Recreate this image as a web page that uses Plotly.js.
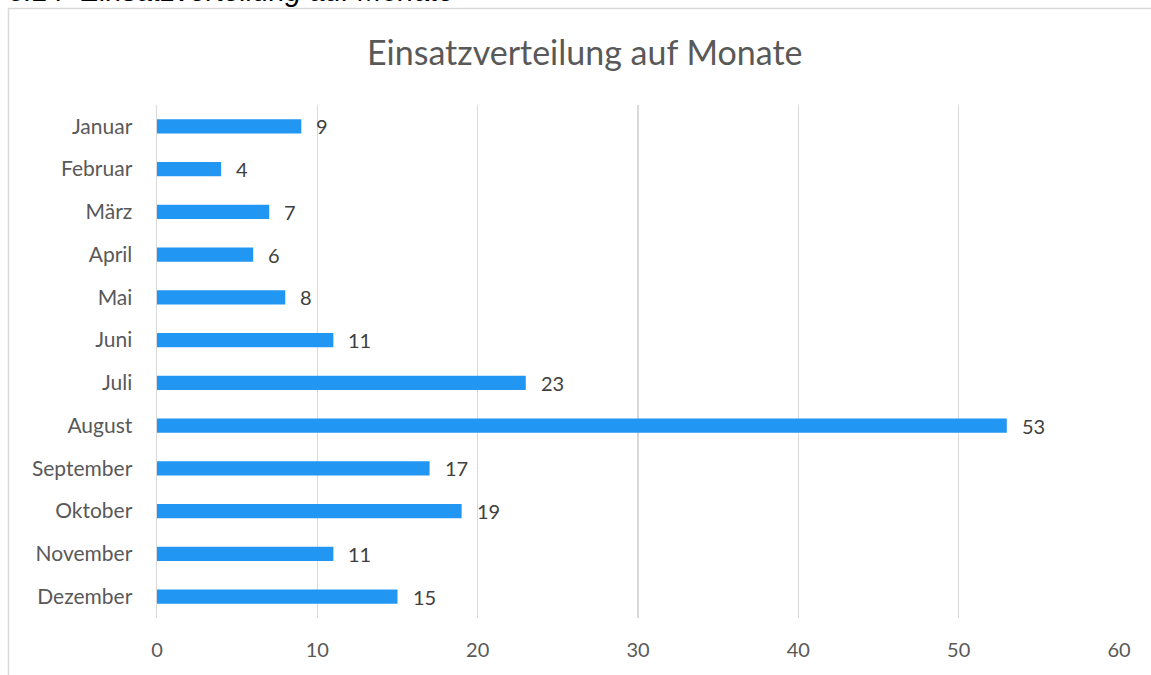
<!DOCTYPE html>
<html>
<head>
<meta charset="utf-8">
<script src="https://cdn.plot.ly/plotly-3.0.1.min.js"></script>
<style>
html,body{margin:0;padding:0;background:#fff;overflow:hidden;}
#chart{width:1151px;height:675px;}
</style>
</head>
<body>
<div id="chart"></div>
<script>
const months = ["Januar","Februar","März","April","Mai","Juni","Juli","August","September","Oktober","November","Dezember"];
const counts = [9,4,7,6,8,11,23,53,17,19,11,15];
const xTicks = [0,10,20,30,40,50,60];
const chartTitle = "Einsatzverteilung auf Monate";
const caption = "3.14  Einsatzverteilung auf Monate";

const W = 1151, H = 675;
const mL = 157, mR = 32, mT = 105, mB = 57;
const pw = W - mL - mR, ph = H - mT - mB;
const px = x => (x - mL) / pw;
const py = y => (H - mB - y) / ph;

const font = "Lato, 'Open Sans', sans-serif";

const annotations = months.map((m, i) => ({
  x: counts[i], y: m, xref: 'x', yref: 'y',
  text: String(counts[i]), showarrow: false,
  xanchor: 'left', xshift: 13,
  font: {family: font, size: 20, color: '#404040'}
}));
annotations.push({
  x: px(584), y: py(52), xref: 'paper', yref: 'paper',
  text: chartTitle, showarrow: false, xanchor: 'center', yanchor: 'middle',
  font: {family: font, size: 34, color: '#595959'}
});
annotations.push({
  x: px(6), y: py(-9), xref: 'paper', yref: 'paper',
  text: "<i>" + caption + "</i>", showarrow: false, xanchor: 'left', yanchor: 'middle',
  font: {family: "'Liberation Sans', Arial, sans-serif", size: 29, color: '#000'}
});

const data = [{
  type: 'bar', orientation: 'h',
  x: counts, y: months,
  marker: {color: '#2196F3'},
  width: 0.33,
  hoverinfo: 'none'
}];

const layout = {
  width: W, height: H,
  margin: {l: mL, r: mR, t: mT, b: mB, pad: 0},
  paper_bgcolor: '#fff', plot_bgcolor: '#fff',
  showlegend: false,
  xaxis: {
    range: [0, 60], tickvals: xTicks, ticktext: xTicks.map(String),
    showgrid: true, gridcolor: '#d9d9d9', gridwidth: 1.5,
    zeroline: false, showline: false, ticks: '',
    tickfont: {family: font, size: 20, color: '#595959'},
    ticklabelstandoff: 18,
    fixedrange: true
  },
  yaxis: {
    categoryorder: 'array', categoryarray: months,
    autorange: 'reversed',
    showgrid: false, zeroline: false, showline: true,
    linecolor: '#d9d9d9', linewidth: 1.5, ticks: '',
    tickfont: {family: font, size: 21, color: '#595959'},
    ticklabelstandoff: 19,
    fixedrange: true
  },
  shapes: [{
    type: 'rect', xref: 'paper', yref: 'paper',
    x0: px(8.5), x1: px(1170), y0: py(690), y1: py(8.5),
    line: {color: '#d9d9d9', width: 1.5}, fillcolor: 'rgba(0,0,0,0)', layer: 'below'
  }],
  annotations: annotations
};

Plotly.newPlot('chart', data, layout, {displayModeBar: false, staticPlot: true});
</script>
</body>
</html>
